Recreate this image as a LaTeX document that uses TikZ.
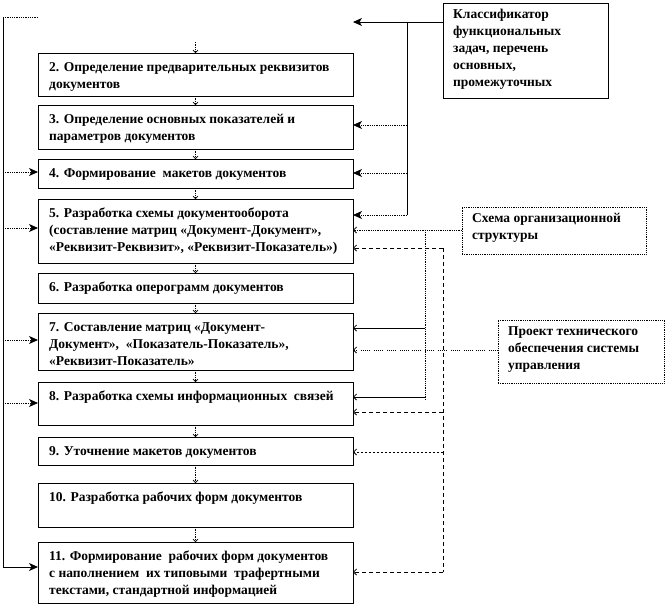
\documentclass[tikz,border=0pt]{standalone}
\usepackage{fontspec}
\setmainfont{Liberation Serif}
\usetikzlibrary{arrows.meta}
\begin{document}
\begin{tikzpicture}[x=1pt,y=-1pt,
  mbox/.style={draw, line width=0.8pt, minimum width=315pt, anchor=north west, inner sep=0pt, outer sep=0pt},
  sbox/.style={draw, line width=0.8pt, anchor=north west, inner sep=0pt, outer sep=0pt},
  dbox/.style={sbox, densely dotted, line width=1pt},
  txt/.style={font=\fontsize{13.5}{17}\selectfont\bfseries},
  lbl/.style={txt, anchor=north west, align=left, inner sep=0pt, xshift=11pt, yshift=-9pt},
  rlbl/.style={txt, anchor=north west, align=left, inner sep=0pt, xshift=10pt, yshift=-6pt},
  ln/.style={line width=0.8pt},
  dln/.style={line width=0.8pt, densely dotted},
  big/.style={-{Stealth[length=9pt,width=8pt,inset=2.5pt]}},
  small/.style={-{Straight Barb[length=3pt,width=6pt]}},
  down/.style={densely dotted, line width=0.7pt, -{Straight Barb[length=2.5pt,width=5pt]}},
  dsh/.style={line width=0.8pt, dash pattern=on 4pt off 3pt},
]
\useasboundingbox (0,0) rectangle (667,606);

% main boxes
\node[mbox, minimum height=43pt, label={[lbl]north west:{2. Определение предварительных реквизитов\\документов}}] (b2) at (38,53) {};
\node[mbox, minimum height=44pt, label={[lbl]north west:{3. Определение основных показателей и\\параметров документов}}] (b3) at (38,105) {};
\node[mbox, minimum height=29pt, label={[lbl]north west:{4. Формирование \ макетов документов}}] (b4) at (38,159) {};
\node[mbox, minimum height=64pt, label={[lbl]north west:{5. Разработка схемы документооборота\\(составление матриц «Документ-Документ»,\\«Реквизит-Реквизит», «Реквизит-Показатель»)}}] (b5) at (38,199) {};
\node[mbox, minimum height=30pt, label={[lbl]north west:{6. Разработка оперограмм документов}}] (b6) at (38,273) {};
\node[mbox, minimum height=57pt, label={[lbl]north west:{7. Составление матриц «Документ-\\Документ», \ «Показатель-Показатель»,\\«Реквизит-Показатель»}}] (b7) at (38,313) {};
\node[mbox, minimum height=43pt, label={[lbl]north west:{8. Разработка схемы информационных \ связей}}] (b8) at (38,382) {};
\node[mbox, minimum height=28pt, label={[lbl]north west:{9. Уточнение макетов документов}}] (b9) at (38,437) {};
\node[mbox, minimum height=44pt, label={[lbl]north west:{10. Разработка рабочих форм документов}}] (b10) at (38,483) {};
\node[mbox, minimum height=61pt, label={[lbl]north west:{11. Формирование \ рабочих форм документов\\с наполнением \ их типовыми \ трафертными\\текстами, стандартной информацией}}] (b11) at (38,542) {};

% right boxes
\node[sbox, minimum width=165pt, minimum height=95pt, label={[rlbl]north west:{Классификатор\\функциональных\\задач, перечень\\основных,\\промежуточных}}] (kl) at (443,3) {};
\node[dbox, minimum width=184pt, minimum height=47pt, label={[rlbl]north west:{Схема организационной\\структуры}}] (sx) at (462,207) {};
\node[dbox, minimum width=166pt, minimum height=63pt, label={[rlbl]north west:{Проект технического\\обеспечения системы\\управления}}] (pr) at (498,320) {};

% free ends
\coordinate (top1) at (353,22);
\coordinate (lt) at (38,17);
\coordinate (dtop) at (195.5,42);

% down arrows
\draw[down] (dtop) -- (b2.north);
\draw[down] (b2.south) -- (b3.north);
\draw[down] (b3.south) -- (b4.north);
\draw[down] (b4.south) -- (b5.north);
\draw[down] (b5.south) -- (b6.north);
\draw[down] (b6.south) -- (b7.north);
\draw[down] (b7.south) -- (b8.north);
\draw[down] (b8.south) -- (b9.north);
\draw[down] (b9.south) -- (b10.north);
\draw[down] (b10.south) -- (b11.north);

% left feedback line
\draw[dln] (lt) -- (3,17);
\draw[ln] (3,17) -- (3,567);
\draw[dln, big] (3,172) -- (b4.west |- 0,172);
\draw[dln, big] (3,228) -- (b5.west |- 0,228);
\draw[dln, big] (3,340) -- (b7.west |- 0,340);
\draw[dln, big] (3,403) -- (b8.west |- 0,403);
\draw[ln, big] (3,567) -- (b11.west |- 0,567);

% classifier
\draw[ln, big] (kl.west |- 0,22) -- (top1);
\draw[ln] (407,22) -- (407,215);
\draw[dln, big] (407,125) -- (b3.east |- 0,125);
\draw[dln, big] (407,173) -- (b4.east |- 0,173);
\draw[dln, big] (407,215) -- (b5.east |- 0,215);

% org structure
\draw[dln, small] (sx.west |- 0,230) -- (b5.east |- 0,230);
\draw[dln] (425,230) -- (425,400);
\draw[ln, small] (425,328) -- (b7.east |- 0,328);
\draw[ln, small] (425,397) -- (b8.east |- 0,397);

% dashed line
\draw[dsh, small] (443,248) -- (b5.east |- 0,248);
\draw[dsh] (443,248) -- (443,572);
\draw[dsh, small] (443,412) -- (b8.east |- 0,412);
\draw[line width=0.8pt, dash pattern=on 2pt off 2pt, small] (443,452) -- (b9.east |- 0,452);
\draw[dsh, small] (443,572) -- (b11.east |- 0,572);

% technical project
\draw[line width=0.8pt, dash pattern=on 0.8pt off 1.2pt on 0.8pt off 1.2pt on 0.8pt off 1.2pt on 0.8pt off 1.2pt on 0.8pt off 4pt, small] (pr.west |- 0,350) -- (b7.east |- 0,350);
\end{tikzpicture}
\end{document}
